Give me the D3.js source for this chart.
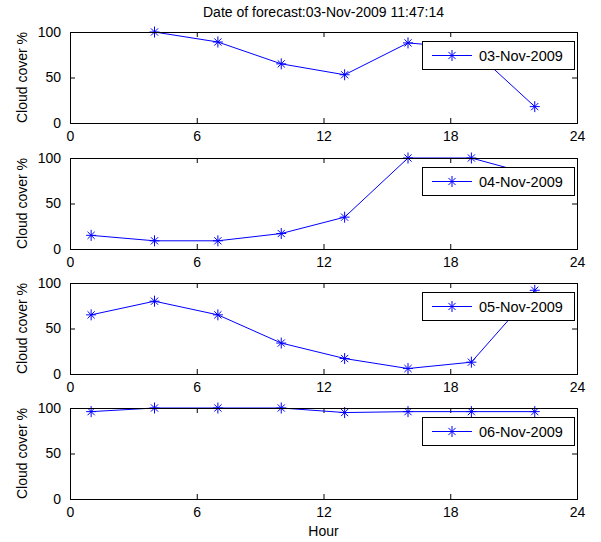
<!DOCTYPE html>
<html>
<head>
<meta charset="utf-8">
<script src="https://cdn.jsdelivr.net/npm/d3@7"></script>
<style>
  html, body { margin: 0; padding: 0; background: #fff; }
  svg { display: block; }
  text { font-family: "Liberation Sans", Arial, Helvetica, sans-serif; }
</style>
</head>
<body>
<svg id="chart" width="601" height="542"></svg>
<script>
// ---- data ----
const hours = [1, 4, 7, 10, 13, 16, 19, 22];
const dates = ["03-Nov-2009", "04-Nov-2009", "05-Nov-2009", "06-Nov-2009"];
const day1 = [null, 100, 89, 65, 53, 88, 82, 18];
const day2 = [15, 9, 9, 17, 35, 100, 100, 81];
const day3 = [65, 80, 65, 34, 17, 6, 13, 92];
const day4 = [96, 100, 100, 100, 95, 96, 96, 96];
const seriesList = [day1, day2, day3, day4];
const xTicks = [0, 6, 12, 18, 24];
const yTicks = [0, 50, 100];
const titleText = "Date of forecast:03-Nov-2009 11:47:14";
const yLabelText = "Cloud cover %";
const xLabelText = "Hour";

// ---- layout ----
const W = 601, H = 542;
const left = 70, right = 577;
const tops = [32, 158, 283, 408];
const ph = 91;
const tickLen = 5;
const fontSize = 14;
const blue = "#0000ff";

const svg = d3.select("#chart");
svg.append("rect").attr("width", W).attr("height", H).attr("fill", "#fff");

const x = d3.scaleLinear().domain([0, 24]).range([left, right]);

function star(g, cx, cy, r) {
  const d = r * 0.72;
  const p = `M${cx - r},${cy}L${cx + r},${cy}M${cx},${cy - r - 0.5}L${cx},${cy + r + 0.5}` +
            `M${cx - d},${cy - d}L${cx + d},${cy + d}M${cx - d},${cy + d}L${cx + d},${cy - d}`;
  g.append("path").attr("d", p).attr("stroke", blue).attr("stroke-width", 1).attr("fill", "none");
}

seriesList.forEach((vals, i) => {
  const top = tops[i];
  const y = d3.scaleLinear().domain([0, 100]).range([top + ph, top]);
  const g = svg.append("g");

  // ticks (inside, all four sides) via d3 axes
  const axB = g.append("g").attr("transform", `translate(0,${top + ph})`)
    .call(d3.axisBottom(x).tickValues(xTicks).tickSizeInner(-tickLen).tickSizeOuter(0).tickPadding(8));
  const axT = g.append("g").attr("transform", `translate(0,${top})`)
    .call(d3.axisTop(x).tickValues(xTicks).tickSizeInner(-tickLen).tickSizeOuter(0).tickFormat(""));
  const axL = g.append("g").attr("transform", `translate(${left},0)`)
    .call(d3.axisLeft(y).tickValues(yTicks).tickSizeInner(-tickLen).tickSizeOuter(0).tickPadding(9));
  const axR = g.append("g").attr("transform", `translate(${right},0)`)
    .call(d3.axisRight(y).tickValues(yTicks).tickSizeInner(-tickLen).tickSizeOuter(0).tickFormat(""));
  [axB, axT, axL, axR].forEach(a => {
    a.select(".domain").remove();
    a.selectAll("line").attr("stroke", "#000").attr("stroke-width", 1);
    a.selectAll("text").attr("fill", "#000").style("font-size", fontSize + "px")
      .style("font-family", '"Liberation Sans", Arial, sans-serif');
  });

  // data line
  const pts = hours.map((h, k) => ({ h, v: vals[k] })).filter(d => d.v !== null);
  const line = d3.line().x(d => x(d.h)).y(d => y(d.v));
  g.append("path").datum(pts).attr("d", line)
    .attr("fill", "none").attr("stroke", blue).attr("stroke-width", 1);
  pts.forEach(d => star(g, x(d.h), y(d.v), 5));

  // box
  g.append("rect").attr("x", left + 0.5).attr("y", top + 0.5)
    .attr("width", right - left).attr("height", ph)
    .attr("fill", "none").attr("stroke", "#000").attr("stroke-width", 1);

  // y label
  g.append("text")
    .attr("transform", `translate(27,${top + ph / 2}) rotate(-90)`)
    .attr("text-anchor", "middle")
    .style("font-size", fontSize + "px")
    .text(yLabelText);

  // legend
  const lw = 152, lh = 28;
  const lx = right - 3 - lw, ly = top + 9;
  const lg = g.append("g");
  lg.append("rect").attr("x", lx + 0.5).attr("y", ly + 0.5).attr("width", lw).attr("height", lh)
    .attr("fill", "#fff").attr("stroke", "#000").attr("stroke-width", 1);
  lg.append("line").attr("x1", lx + 10).attr("x2", lx + 50)
    .attr("y1", ly + lh / 2 + 0.5).attr("y2", ly + lh / 2 + 0.5)
    .attr("stroke", blue).attr("stroke-width", 1);
  star(lg, lx + 30, ly + lh / 2 + 0.5, 5);
  lg.append("text").attr("x", lx + 57).attr("y", ly + lh / 2 + 5.5)
    .style("font-size", "14.5px").text(dates[i]);
});

// title
svg.append("text").attr("x", (left + right) / 2).attr("y", 17)
  .attr("text-anchor", "middle").style("font-size", "14px").text(titleText);

// x label
svg.append("text").attr("x", (left + right) / 2).attr("y", 536)
  .attr("text-anchor", "middle").style("font-size", fontSize + "px").text(xLabelText);
</script>
</body>
</html>
